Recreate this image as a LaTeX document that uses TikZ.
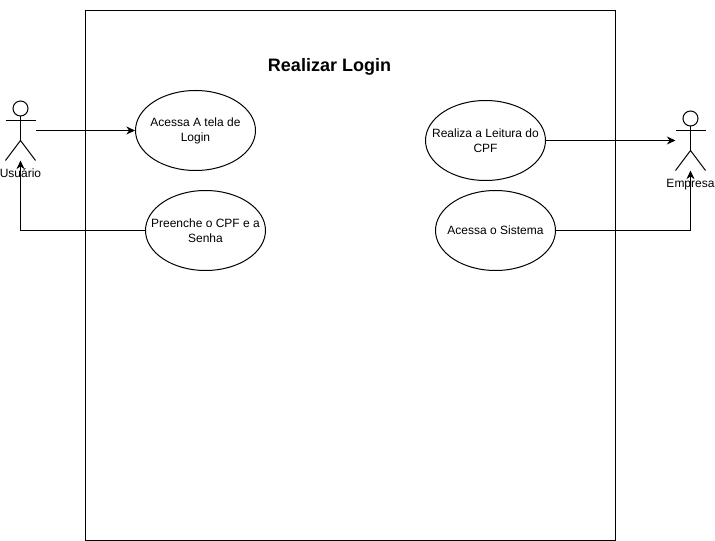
\documentclass[tikz,border=0pt]{standalone}
\usepackage{fontspec}
\setmainfont{Liberation Sans}
\usetikzlibrary{shapes.geometric, arrows.meta}
\tikzset{
  caso/.style={draw, ellipse, minimum width=90pt, minimum height=60pt, inner xsep=-30pt, inner ysep=-15pt, align=center, font=\fontsize{9}{11.25}\selectfont},
  ator/.style={font=\fontsize{9}{11.25}\selectfont},
}
\begin{document}
\begin{tikzpicture}[x=0.75pt, y=-0.75pt, >={Stealth[length=6.5pt,width=6pt]}, line width=0.75pt]
        \useasboundingbox (-0.5,-0.5) rectangle (714.5,540.5);
        \node[draw, minimum width=397.5pt, minimum height=397.5pt, inner sep=0pt] (sistema) at (350,275) {};
        \node[font=\fontsize{13.5}{16}\selectfont\bfseries] (titulo) at (329,66.5) {Realizar Login};

        % casos de uso
        \node[caso] (acessa) at (195,130) {Acessa A tela de\\Login};
        \node[caso] (preenche) at (205,230) {Preenche o CPF e a\\Senha};
        \node[caso] (leitura) at (485,140) {Realiza a Leitura do\\CPF};
        \node[caso] (sist) at (495,230) {Acessa o Sistema};

        % ator Usuario
        \node[draw, circle, minimum size=11.25pt, inner sep=0pt] (cabecaU) at (20,108) {};
        \coordinate (quadrilU) at (20,140);
        \coordinate (bracoUesq) at (5,120);
        \coordinate (bracoUdir) at (35,120);
        \coordinate (peUesq) at (5,160);
        \coordinate (peUdir) at (35,160);
        \coordinate (saidaU) at (35,130);
        \coordinate (pesU) at (20,160);
        \draw (cabecaU.south) -- (quadrilU);
        \draw (bracoUesq) -- (bracoUdir);
        \draw (peUesq) -- (quadrilU) -- (peUdir);
        \node[ator] (usuario) at (20,173) {Usuário};

        % ator Empresa
        \node[draw, circle, minimum size=11.25pt, inner sep=0pt] (cabecaE) at (690,118) {};
        \coordinate (quadrilE) at (690,150);
        \coordinate (bracoEesq) at (675,130);
        \coordinate (bracoEdir) at (705,130);
        \coordinate (peEesq) at (675,170);
        \coordinate (peEdir) at (705,170);
        \coordinate (entradaE) at (675,140);
        \coordinate (pesE) at (690,170);
        \draw (cabecaE.south) -- (quadrilE);
        \draw (bracoEesq) -- (bracoEdir);
        \draw (peEesq) -- (quadrilE) -- (peEdir);
        \node[ator] (empresa) at (690,184) {Empresa};

        % ligacoes
        \draw[->] (saidaU) -- (acessa.west);
        \draw[->] (preenche.west) -| (pesU);
        \draw[->] (leitura.east) -- (entradaE);
        \draw[->] (sist.east) -| (pesE);
    \end{tikzpicture}
\end{document}
